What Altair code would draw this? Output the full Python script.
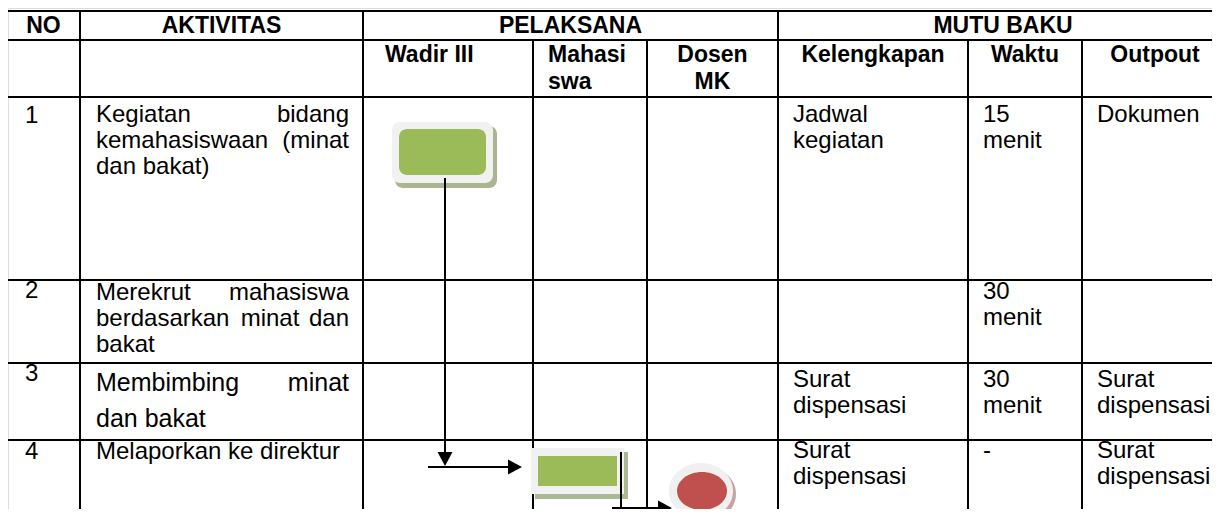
import altair as alt
import pandas as pd

# ---------------- page / plot geometry ----------------
W, H = 1204, 501            # plot area = window minus the 8 px page margin
PX0, PY0 = 8, 8

# table layout (page pixel coordinates)
col_edges = [7, 80, 363, 533, 647, 778, 968, 1082, 1228]
row_edges = [11, 40, 97, 280, 363, 440, 530]

# ---------------- text content ----------------
top_headers = ["NO", "AKTIVITAS", "PELAKSANA", "MUTU BAKU"]
top_header_span = [(0, 1), (1, 2), (2, 5), (5, 8)]

sub_headers_left = ["Wadir III", "Mahasi\nswa"]
sub_headers_center = ["Dosen\nMK", "Kelengkapan", "Waktu", "Outpout"]
sub_center_cols = [4, 5, 6, 7]

numbers = ["1", "2", "3", "4"]
kelengkapan = ["Jadwal\nkegiatan", "", "Surat\ndispensasi", "Surat\ndispensasi"]
waktu = ["15\nmenit", "30\nmenit", "30\nmenit", "-"]
outpout = ["Dokumen", "", "Surat\ndispensasi", "Surat\ndispensasi"]

# AKTIVITAS paragraphs (justified: left / middle / right part of each line)
akt_left = ["Kegiatan\nkemahasiswaan\ndan bakat)",
            "Merekrut\nberdasarkan\nbakat",
            "",
            "Melaporkan ke direktur"]
akt_right = ["bidang\n(minat", "mahasiswa\ndan", "", ""]
akt_mid = ["", "minat", "", ""]          # middle word of line 2 in row 2
akt3_left = "Membimbing\ndan bakat"
akt3_right = "minat"

# ---------------- layout of text ----------------
hdr_base1, hdr_base2 = 33, 62
num_base = [123, 298, 381, 459]
akt_base = [122, 300, 391, 459]
cell_base = [122, 299, 387, 458]
num_x = 25
akt_x_left, akt_x_right, akt_x_mid = 96, 349, 270
line_h = 26
kel_x, wak_x, out_x = 793, 983, 1097
sub_left_x = [385, 548]

BODY = 24
BOLD = 23
BIG = 25
FONT = "Liberation Sans, Arial, sans-serif"

xs = alt.Scale(domain=[PX0, PX0 + W], nice=False, zero=False)
ys = alt.Scale(domain=[PY0, PY0 + H], nice=False, zero=False, reverse=True)


def X(f):
    return alt.X(f, type="quantitative", scale=xs, axis=None)


def Y(f):
    return alt.Y(f, type="quantitative", scale=ys, axis=None)


# ---------------- grid lines ----------------
segs = []
for y in row_edges[:-1]:
    segs.append(dict(x=col_edges[0], x2=col_edges[-1], y=y, y2=y))
for i, x in enumerate(col_edges):
    top = row_edges[1] if i in (3, 4, 6, 7) else row_edges[0]
    segs.append(dict(x=x, x2=x, y=top, y2=row_edges[-1]))
grid = alt.Chart(pd.DataFrame(segs)).mark_rule(
    color="black", strokeWidth=2, strokeCap="square"
).encode(x=X("x"), x2="x2", y=Y("y"), y2="y2")

# ---------------- flow shapes ----------------
rounded_boxes = pd.DataFrame([
    dict(x=395, x2=497, y=126, y2=188, c="#a9b68f"),
    dict(x=392, x2=493, y=122, y2=183, c="#f1f1f1"),
    dict(x=399, x2=486, y=129, y2=175, c="#9bbb59"),
])
box1 = alt.Chart(rounded_boxes).mark_rect(cornerRadius=8).encode(
    x=X("x"), x2="x2", y=Y("y"), y2="y2", color=alt.Color("c:N", scale=None))

square_boxes = pd.DataFrame([
    dict(x=535, x2=628, y=452, y2=499, c="#aab893"),
    dict(x=531, x2=624, y=448, y2=494, c="#f1f1f1"),
    dict(x=538, x2=617, y=456, y2=486, c="#9bbb59"),
])
box2 = alt.Chart(square_boxes).mark_rect().encode(
    x=X("x"), x2="x2", y=Y("y"), y2="y2", color=alt.Color("c:N", scale=None))

arrow_lines = pd.DataFrame([
    dict(x=445, x2=445, y=178, y2=460),
    dict(x=428, x2=512, y=467, y2=467),
    dict(x=621, x2=621, y=452, y2=509),
    dict(x=612, x2=662, y=508, y2=508),
])
arrows = alt.Chart(arrow_lines).mark_rule(color="black", strokeWidth=2).encode(
    x=X("x"), x2="x2", y=Y("y"), y2="y2")

DOWN = "M -1 -0.93 L 1 -0.93 L 0 0.93 Z"
RIGHT = "M -0.93 -1 L 0.93 0 L -0.93 1 Z"


def ellipse(r):
    k = 0.5523
    return (f"M 1 0 C 1 {k*r:.4f} {k} {r} 0 {r} C {-k} {r} -1 {k*r:.4f} -1 0 "
            f"C -1 {-k*r:.4f} {-k} {-r} 0 {-r} C {k} {-r} 1 {-k*r:.4f} 1 0 Z")


symbols = pd.DataFrame([
    dict(x=445, y=459, s=225, shape=DOWN, c="black"),
    dict(x=515, y=467, s=225, shape=RIGHT, c="black"),
    dict(x=665, y=508, s=225, shape=RIGHT, c="black"),
    dict(x=704, y=494, s=4096, shape=ellipse(0.875), c="#c9a3a2"),
    dict(x=701, y=491, s=4096, shape=ellipse(0.875), c="#f0f0f0"),
    dict(x=702, y=491, s=2500, shape=ellipse(0.76), c="#c0504d"),
])
marks = alt.Chart(symbols).mark_point(filled=True, opacity=1, strokeWidth=0).encode(
    x=X("x"), y=Y("y"),
    size=alt.Size("s:Q", scale=None),
    shape=alt.Shape("shape:N", scale=None),
    color=alt.Color("c:N", scale=None),
)

# ---------------- texts ----------------
hdr_center = []
for t, (a, b) in zip(top_headers, top_header_span):
    hdr_center.append(dict(x=(col_edges[a] + col_edges[b]) / 2, y=hdr_base1, t=t))
for t, ci in zip(sub_headers_center, sub_center_cols):
    hdr_center.append(dict(x=(col_edges[ci] + col_edges[ci + 1]) / 2, y=hdr_base2, t=t))
hdr_left = [dict(x=x, y=hdr_base2, t=t) for t, x in zip(sub_headers_left, sub_left_x)]

body_left = []
for i in range(4):
    body_left.append(dict(x=num_x, y=num_base[i], t=numbers[i]))
    body_left.append(dict(x=akt_x_left, y=akt_base[i], t=akt_left[i]))
    body_left.append(dict(x=kel_x, y=cell_base[i], t=kelengkapan[i]))
    body_left.append(dict(x=wak_x, y=cell_base[i], t=waktu[i]))
    body_left.append(dict(x=out_x, y=cell_base[i], t=outpout[i]))
body_left = [d for d in body_left if d["t"]]
body_right = [dict(x=akt_x_right, y=akt_base[i], t=akt_right[i]) for i in range(4) if akt_right[i]]
body_mid = [dict(x=akt_x_mid, y=akt_base[i] + line_h, t=akt_mid[i]) for i in range(4) if akt_mid[i]]

big_left = [dict(x=akt_x_left, y=akt_base[2], t=akt3_left)]
big_right = [dict(x=akt_x_right, y=akt_base[2], t=akt3_right)]


def text_layer(rows, align, size, weight, lh):
    return alt.Chart(pd.DataFrame(rows)).mark_text(
        align=align, baseline="alphabetic", fontSize=size, fontWeight=weight,
        font=FONT, lineBreak="\n", lineHeight=lh, color="black",
    ).encode(x=X("x"), y=Y("y"), text="t:N")


texts = [
    text_layer(hdr_center, "center", BOLD, "bold", 27),
    text_layer(hdr_left, "left", BOLD, "bold", 27),
    text_layer(body_left, "left", BODY, "normal", line_h),
    text_layer(body_right, "right", BODY, "normal", line_h),
    text_layer(body_mid, "center", BODY, "normal", line_h),
    text_layer(big_left, "left", BIG, "normal", 36),
    text_layer(big_right, "right", BIG, "normal", 36),
]

chart = alt.layer(grid, box1, box2, arrows, marks, *texts).properties(
    width=W, height=H, padding=0, autosize="none"
).configure_view(stroke=None).configure(background="white")

chart.save("out.html", embed_options={"renderer": "svg", "actions": False})
